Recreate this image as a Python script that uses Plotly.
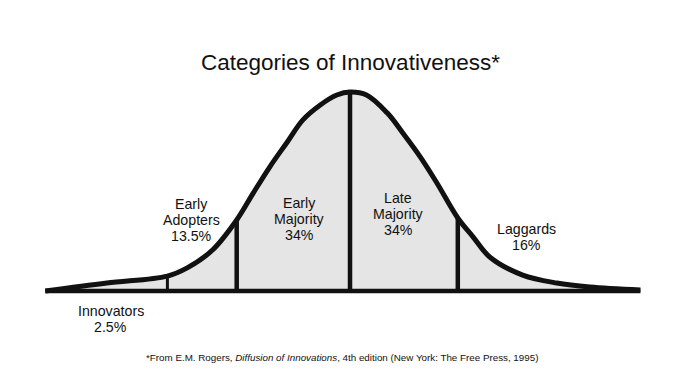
import plotly.graph_objects as go

# Bell curve outline (x in std-dev units, y as % of peak height)
curve_x = [-2.77, -2.21, -1.66, -1.48, -1.25, -1.03, -0.88, -0.73, -0.57, -0.43, -0.27, -0.12, 0.0,
           0.15, 0.34, 0.48, 0.64, 0.79, 0.98, 1.12, 1.27, 1.57, 1.88, 2.18, 2.64]
curve_y = [0.0, 4.0, 7.5, 11.6, 20.6, 35.7, 49.2, 62.3, 74.9, 85.9, 93.5, 98.5, 100.0,
           98.5, 89.4, 79.4, 67.3, 54.3, 36.7, 27.1, 17.1, 8.0, 4.0, 2.0, 0.5]

# Category boundaries (x positions of the vertical dividers)
boundaries = [-1.66, -1.03, 0.0, 0.98]
boundary_widths = [3, 4.5, 4.5, 4.5]

categories = [["Innovators"], ["Early", "Adopters"], ["Early", "Majority"], ["Late", "Majority"], ["Laggards"]]
shares = ["2.5%", "13.5%", "34%", "34%", "16%"]

title_text = "Categories of Innovativeness*"
footnote = ("*From E.M. Rogers, <i>Diffusion of Innovations</i>, 4th edition "
            "(New York: The Free Press, 1995)")

FONT = "Liberation Sans, Arial, sans-serif"

fig = go.Figure()

# filled curve
fig.add_trace(go.Scatter(
    x=curve_x, y=curve_y, mode="lines", fill="tozeroy",
    fillcolor="#e5e5e5",
    line=dict(color="#111111", width=5, shape="spline", smoothing=1.0),
    hoverinfo="skip", showlegend=False,
))

# vertical dividers up to the curve
for b, w in zip(boundaries, boundary_widths):
    top = curve_y[curve_x.index(b)]
    fig.add_trace(go.Scatter(
        x=[b, b], y=[0, top], mode="lines",
        line=dict(color="#111111", width=w),
        hoverinfo="skip", showlegend=False,
    ))

# baseline
fig.add_trace(go.Scatter(
    x=[curve_x[0], curve_x[-1]], y=[0, 0], mode="lines",
    line=dict(color="#111111", width=4.5),
    hoverinfo="skip", showlegend=False,
))

W, H = 700, 386
# label layout in pixels: centre x, centre y of first line, line spacing
label_pos = [(111, 311), (191, 204), (299, 203), (398, 198), (526, 229)]
LINE_STEP = 15.8

annotations = []
for (px, py), cat, sh in zip(label_pos, categories, shares):
    for i, line in enumerate(cat + [sh]):
        annotations.append(dict(
            x=px / W, y=1 - (py + i * LINE_STEP) / H, xref="paper", yref="paper",
            text=line, showarrow=False,
            xanchor="center", yanchor="middle", align="center",
            font=dict(family=FONT, size=14.2, color="#111111"),
        ))

annotations.append(dict(
    x=350 / W, y=1 - 62 / H, xref="paper", yref="paper",
    text=title_text, showarrow=False, xanchor="center", yanchor="middle",
    font=dict(family=FONT, size=22.5, color="#111111"),
))
annotations.append(dict(
    x=342 / W, y=1 - 357 / H, xref="paper", yref="paper",
    text=footnote, showarrow=False, xanchor="center", yanchor="middle",
    font=dict(family=FONT, size=9.8, color="#111111"),
))

fig.update_layout(
    width=W, height=H,
    margin=dict(l=0, r=0, t=0, b=0),
    paper_bgcolor="white", plot_bgcolor="white",
    xaxis=dict(range=[-350 / 110, 350 / 110], visible=False, fixedrange=True),
    yaxis=dict(range=[(291 - 386) / 1.99, 291 / 1.99], visible=False, fixedrange=True),
    annotations=annotations,
    showlegend=False,
)

fig.write_html("out.html", config={"displayModeBar": False},
               post_script="document.body.style.margin='0';")
